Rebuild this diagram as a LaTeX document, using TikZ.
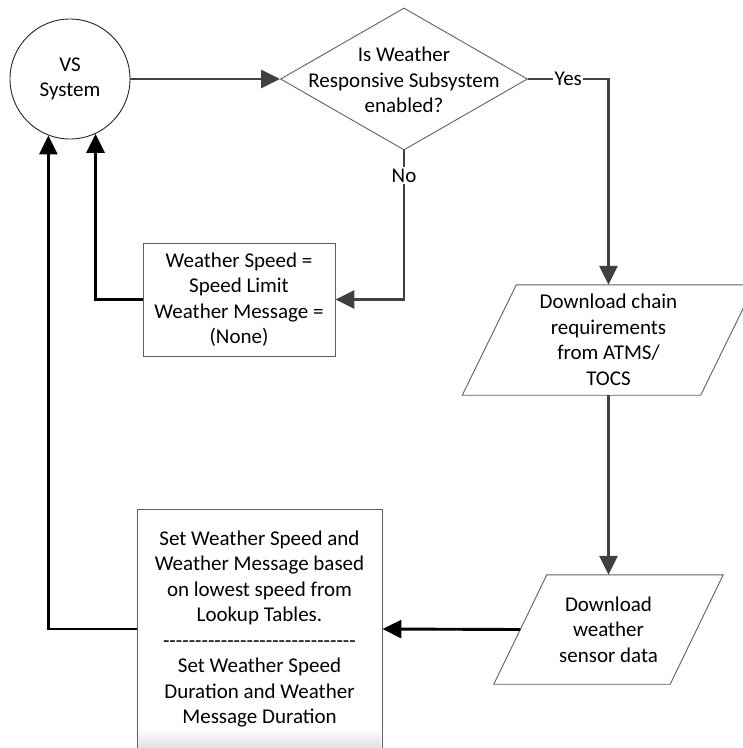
\documentclass[tikz,border=0pt]{standalone}
\usepackage{fontspec}
\setmainfont{Carlito}
\usetikzlibrary{shapes.geometric,arrows.meta}
\definecolor{connc}{RGB}{64,64,64}
\definecolor{borderc}{RGB}{95,95,95}
\begin{document}
\begin{tikzpicture}[x=1pt,y=-1pt,
  font=\fontsize{21}{25.5}\selectfont,
  shapeborder/.style={draw=borderc, line width=0.9pt},
  conn/.style={draw=connc, line width=2.7pt, -{Triangle[length=19pt,width=18pt]}},
  back/.style={draw=black, line width=2.9pt, -{Triangle[length=19pt,width=18pt]}},
  lbl/.style={fill=white, inner sep=1.5pt, text=black}
]
\useasboundingbox (0,0) rectangle (743,748);
\clip (0,0) rectangle (743,748);

% VS System circle
\node[circle, draw=black!85, line width=0.9pt, minimum size=120pt, align=center, inner sep=0pt] (vs) at (70,79) {VS\\System};

% decision diamond
\node[diamond, shapeborder, minimum width=247pt, minimum height=142pt, inner sep=0pt] (dec) at (404,79) {};
\node[align=center, inner sep=0pt] (dect) at (404,80) {Is Weather\\Responsive Subsystem\\enabled?};

% box 1
\node[rectangle, shapeborder, minimum width=192pt, minimum height=113pt, align=center, inner sep=0pt] (b1) at (239,299.5) {Weather Speed =\\Speed Limit\\Weather Message =\\(None)};

% parallelogram 1
\node[minimum width=238pt, minimum height=110pt, align=center, inner sep=0pt] (p1) at (608.5,340) {Download chain\\requirements\\from ATMS/\\TOCS};
\draw[shapeborder] ([xshift=27pt]p1.north west) -- ([xshift=27pt]p1.north east) -- ([xshift=-27pt]p1.south east) -- ([xshift=-27pt]p1.south west) -- cycle;

% parallelogram 2
\node[minimum width=176pt, minimum height=109pt, align=center, inner sep=0pt] (p2) at (608.5,629.5) {Download\\weather\\sensor data};
\draw[shapeborder] ([xshift=26.5pt]p2.north west) -- ([xshift=26.5pt]p2.north east) -- ([xshift=-26.5pt]p2.south east) -- ([xshift=-26.5pt]p2.south west) -- cycle;

% box 2 (bottom cut off by the page edge)
\shade[top color=white, bottom color=black!12] (138,728) rectangle (381,748);
\node[rectangle, shapeborder, minimum width=245pt, minimum height=240pt, align=center, inner sep=0pt] (b2) at (259.5,629) {Set Weather Speed and\\Weather Message based\\on lowest speed from\\Lookup Tables.\\-{}-{}-{}-{}-{}-{}-{}-{}-{}-{}-{}-{}-{}-{}-{}-{}-{}-{}-{}-{}-{}-{}-{}-{}-{}-{}-{}-{}-{}-\\Set Weather Speed\\Duration and Weather\\Message Duration};

% connectors
\draw[conn] (vs) -- (dec);
\draw[conn] (dec.east) -- node[lbl]{Yes} (dec.east -| p1.north) -- (p1.north);
\draw[conn] (dec.south) -- node[lbl, pos=0.17]{No} (dec.south |- b1.east) -- (b1.east);
\draw[back] (b1.west) -| (vs.-65);
\draw[back] (b2.west) -| (vs.-111.5);
\draw[conn] (p1.south) -- (p2.north);
\draw[back] (p2.west) -- (b2.east);
\end{tikzpicture}
\end{document}
